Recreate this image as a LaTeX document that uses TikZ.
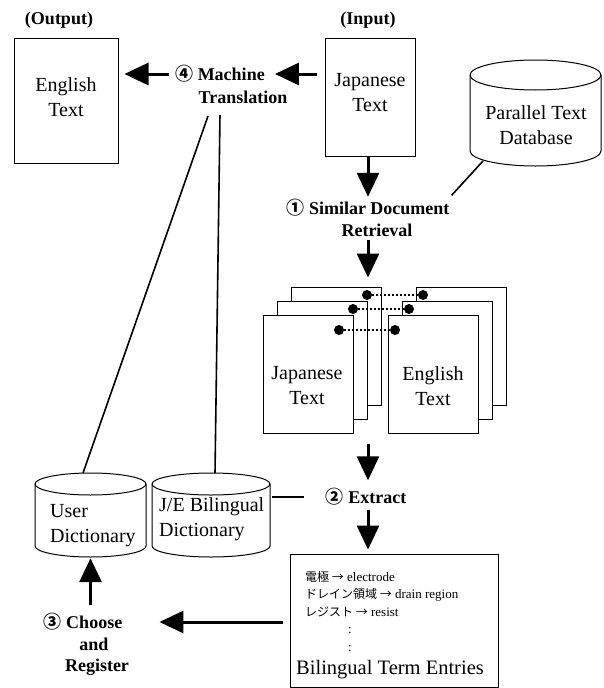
\documentclass[tikz,border=0pt]{standalone}
\usepackage{fontspec}
\setmainfont{Liberation Serif}
\newfontfamily\cjk{Noto Sans CJK JP}
\usetikzlibrary{arrows.meta,calc}
\begin{document}
\begin{tikzpicture}[x=1pt,y=1pt,
  box/.style={draw, line width=1pt, fill=white, minimum width=90pt, minimum height=118pt, inner sep=0pt},
  btxt/.style={font=\fontsize{20}{25}\selectfont, align=center, inner sep=0pt},
  lbl/.style={font=\bfseries\fontsize{18}{22}\selectfont, inner sep=0pt},
  bigarrow/.style={line width=3pt, -{Triangle[length=24pt,width=22pt]}},
  conn/.style={line width=1.6pt},
  dotl/.style={line width=1.6pt, dash pattern=on 2pt off 2pt},
  pin/.style={circle, fill=black, minimum size=10pt, inner sep=0pt},
  cyl/.style={draw, line width=1pt, fill=white},
  area/.style={inner sep=0pt}
]
\useasboundingbox (0,0) rectangle (604,-688);

% ---------- top row ----------
\node[lbl] (outlbl) at (59,-20) {(Output)};
\node[lbl] (inlbl) at (368,-20) {(Input)};
\node[box, minimum width=104pt, minimum height=125pt] (eng) at (66,-100.5) {};
\node[btxt] (engt) at (66,-97.5) {English\\Text};
\node[box] (jp) at (370,-97) {};
\node[btxt] (jpt) at (370,-92.5) {Japanese\\Text};
\node[lbl] (mt1) at (220,-74) {{\cjk ④} Machine};
\node[lbl] (mt2) at (243,-97) {Translation};

% Parallel text database cylinder
\path[cyl] (470,-75) -- (470,-151) arc[start angle=180,end angle=360,x radius=65.5,y radius=15] -- (601,-75) arc[start angle=0,end angle=180,x radius=65.5,y radius=15] -- cycle;
\draw[line width=1pt] (470,-75) arc[start angle=180,end angle=360,x radius=65.5,y radius=15];
\node[area, minimum width=131pt, minimum height=106pt] (pdb) at (535.5,-113) {};
\node[btxt] (pdbt) at (536,-125) {Parallel Text\\Database};
\coordinate (pdbc) at (483,-161);

\node[lbl] (sim1) at (368,-208) {{\cjk ①} Similar Document};
\node[lbl] (sim2) at (377,-230) {Retrieval};
\coordinate (col) at (368,0);

% ---------- stacked pages ----------
\node[box] (jp3) at (336,-346) {};
\node[box] (jp2) at (322,-360) {};
\node[box] (jp1) at (308,-374) {};
\node[box] (en3) at (461,-346) {};
\node[box] (en2) at (447,-360) {};
\node[box] (en1) at (433,-374) {};
\node[btxt] (jp1t) at (307,-386) {Japanese\\Text};
\node[btxt] (en1t) at (433,-386) {English\\Text};
\node[pin] (jd3) at (367,-295) {};
\node[pin] (ed3) at (423,-295) {};
\node[pin] (jd2) at (353,-309) {};
\node[pin] (ed2) at (409,-309) {};
\node[pin] (jd1) at (339,-330) {};
\node[pin] (ed1) at (395,-330) {};
\draw[dotl] (jd3) -- (ed3);
\draw[dotl] (jd2) -- (ed2);
\draw[dotl] (jd1) -- (ed1);

% ---------- bottom ----------
\node[lbl] (ext) at (366,-497) {{\cjk ②} Extract};

% User dictionary cylinder
\path[cyl] (35,-484) -- (35,-546) arc[start angle=180,end angle=360,x radius=55.5,y radius=11] -- (146,-484) arc[start angle=0,end angle=180,x radius=55.5,y radius=11] -- cycle;
\draw[line width=1pt] (35,-484) arc[start angle=180,end angle=360,x radius=55.5,y radius=11];
\node[area, minimum width=111pt, minimum height=84pt] (ud) at (90.5,-515) {};
\node[btxt, align=left, anchor=west] (udt) at (50,-525.5) {User\\Dictionary};

% J/E dictionary cylinder
\path[cyl] (152,-484) -- (152,-546) arc[start angle=180,end angle=360,x radius=59,y radius=11] -- (270,-484) arc[start angle=0,end angle=180,x radius=59,y radius=11] -- cycle;
\draw[line width=1pt] (152,-484) arc[start angle=180,end angle=360,x radius=59,y radius=11];
\node[area, minimum width=118pt, minimum height=84pt] (je) at (211,-515) {};
\node[btxt, align=left, anchor=west] (jet) at (159,-519.5) {J/E Bilingual\\Dictionary};

\node[draw, line width=1pt, minimum width=208pt, minimum height=133pt, inner sep=0pt] (tb) at (394,-620.5) {};
\node[font=\fontsize{13}{17.5}\selectfont, align=left, anchor=north west, inner sep=0pt] (ent) at (305,-571) {%
{\cjk\fontsize{12}{17.5}\selectfont 電極 →} electrode\\
{\cjk\fontsize{12}{17.5}\selectfont ドレイン領域 →} drain region\\
{\cjk\fontsize{12}{17.5}\selectfont レジスト →} resist\\
\hspace*{43pt}:\\
\hspace*{43pt}:};
\node[btxt, font=\fontsize{20.5}{25}\selectfont] (tbt) at (390,-670) {Bilingual Term Entries};

\node[lbl] (ch1) at (83,-622) {{\cjk ③} Choose};
\node[lbl] (ch2) at (94,-644) {and};
\node[lbl] (ch3) at (97,-667) {Register};

\coordinate (mtl1) at (208,-116);
\coordinate (mtl2) at (220,-115);
\coordinate (udtop) at (83,-473);
\coordinate (jetop) at (215,-473);

% ---------- connectors ----------
\draw[bigarrow] ([xshift=-8pt]jp.west |- mt1.east) -- ([xshift=10pt]mt1.east);
\draw[bigarrow] ([xshift=-6pt]mt1.west) -- ([xshift=6pt]eng.east |- mt1.west);
\draw[bigarrow] (col |- jp.south) -- ([yshift=2.5pt]col |- sim1.north);
\draw[bigarrow] ([yshift=-3pt]col |- sim2.south) -- ([yshift=9pt]col |- jp3.north);
\draw[bigarrow] ([yshift=-10pt]col |- en1.south) -- ([yshift=8pt]col |- ext.north);
\draw[bigarrow] ([yshift=-4pt]col |- ext.south) -- ([yshift=4pt]col |- tb.north);
\draw[bigarrow] ([xshift=-7pt]tb.west |- ch1.east) -- ([xshift=37pt]ch1.east);
\draw[bigarrow] ([yshift=8pt]ud.south |- ch1.north) -- ([yshift=-1pt]ud.south);

\draw[conn] (mtl1) -- (udtop);
\draw[conn] (mtl2) -- (jetop);
\draw[conn] (pdbc) -- ([shift={(2pt,4pt)}]sim1.north east);
\draw[conn] ([xshift=2pt]je.east |- ext.west) -- ([xshift=-22pt]ext.west);
\end{tikzpicture}
\end{document}
